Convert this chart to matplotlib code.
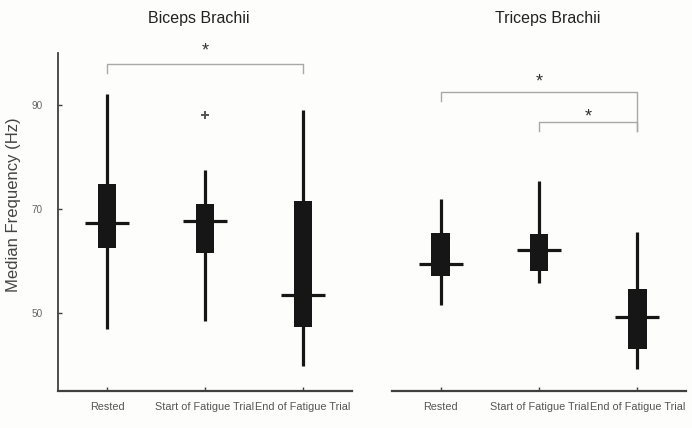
import matplotlib.pyplot as plt
import numpy as np

plt.rcParams['font.family'] = ['Liberation Sans', 'DejaVu Sans']

conditions = ['Rested', 'Start of Fatigue Trial', 'End of Fatigue Trial']
muscles = ['Biceps Brachii', 'Triceps Brachii']

# box stats per muscle: whisker low, q1, median, q3, whisker high
biceps_lo = [47.0, 48.5, 39.9]
biceps_q1 = [62.4, 61.5, 47.3]
biceps_med = [67.3, 67.6, 53.4]
biceps_q3 = [74.7, 71.0, 71.6]
biceps_hi = [92.0, 77.4, 89.0]
biceps_outliers = [[], [88.1], []]

triceps_lo = [51.5, 55.7, 39.3]
triceps_q1 = [57.1, 58.1, 43.0]
triceps_med = [59.4, 62.0, 49.2]
triceps_q3 = [65.4, 65.2, 54.6]
triceps_hi = [71.8, 75.3, 65.5]
triceps_outliers = [[], [], []]

# significance brackets: (from, to, level, left leg end, right leg end, star y)
biceps_sig = [(1, 3, 97.9, 96.1, 96.1, 100.4)]
triceps_sig = [(1, 3, 92.5, 90.7, 84.9, 94.4),
               (2, 3, 86.6, 84.9, 84.9, 87.7)]

data = [
    (biceps_lo, biceps_q1, biceps_med, biceps_q3, biceps_hi, biceps_outliers, biceps_sig),
    (triceps_lo, triceps_q1, triceps_med, triceps_q3, triceps_hi, triceps_outliers, triceps_sig),
]

bg = '#fdfdfc'
fig = plt.figure(figsize=(6.92, 4.28), dpi=100, facecolor=bg)
ax1 = fig.add_axes([0.0838, 0.0864, 0.4249, 0.7905], facecolor=bg)
ax2 = fig.add_axes([0.5660, 0.0864, 0.4260, 0.7905], facecolor=bg)

box_color = '#161616'
spine_color = '#404040'
pos = np.arange(1, 4)
title_x = [0.48, 0.53]   # titles sit a bit off-centre in the original

for ax, title, tx, (lo, q1, med, q3, hi, outl, sig) in zip([ax1, ax2], muscles, title_x, data):
    ax.vlines(pos, lo, hi, color=box_color, lw=2.3, zorder=2)
    ax.bar(pos, np.array(q3) - np.array(q1), bottom=q1, width=0.19,
           color=box_color, zorder=3)
    ax.hlines(med, pos - 0.225, pos + 0.225, color=box_color, lw=2.3, zorder=4)
    for p, o in zip(pos, outl):
        if o:
            ax.plot([p] * len(o), o, '+', color='#555555', ms=6, mew=1.4, zorder=4)

    for x1, x2, y, yl, yr, ys in sig:
        ax.plot([x1, x1, x2, x2], [yl, y, y, yr], color='#a8a8a8', lw=1,
                clip_on=False, zorder=1)
        ax.text((x1 + x2) / 2, ys, '*', ha='center', va='center', fontsize=13,
                color='#333333', clip_on=False)

    ax.set_xlim(0.5, 3.5)
    ax.set_ylim(35, 100)
    ax.set_xticks(pos)
    ax.set_xticklabels(conditions, fontsize=7.8, color='#555555')
    ax.tick_params(axis='x', direction='in', length=3, width=1,
                   color=spine_color, pad=8)
    ax.spines['top'].set_visible(False)
    ax.spines['right'].set_visible(False)
    ax.spines['bottom'].set_color(spine_color)
    ax.spines['bottom'].set_linewidth(1.6)
    ax.text(tx, 1.1, title, transform=ax.transAxes, ha='center', va='center',
            fontsize=11.5, color='#222222')

ax1.set_yticks([50, 70, 90])
ax1.set_yticklabels(['50', '70', '90'], fontsize=7.2, color='#666666')
ax1.tick_params(axis='y', direction='in', length=3, width=1,
                color=spine_color, pad=11)
ax1.spines['left'].set_color(spine_color)
ax1.spines['left'].set_linewidth(1.3)

ax2.spines['left'].set_visible(False)
ax2.set_yticks([])

fig.text(0.0198, 0.521, 'Median Frequency (Hz)', rotation=90, ha='center',
         va='center', fontsize=12, color='#444444')

fig.savefig('out.png', dpi=100, facecolor=bg)
